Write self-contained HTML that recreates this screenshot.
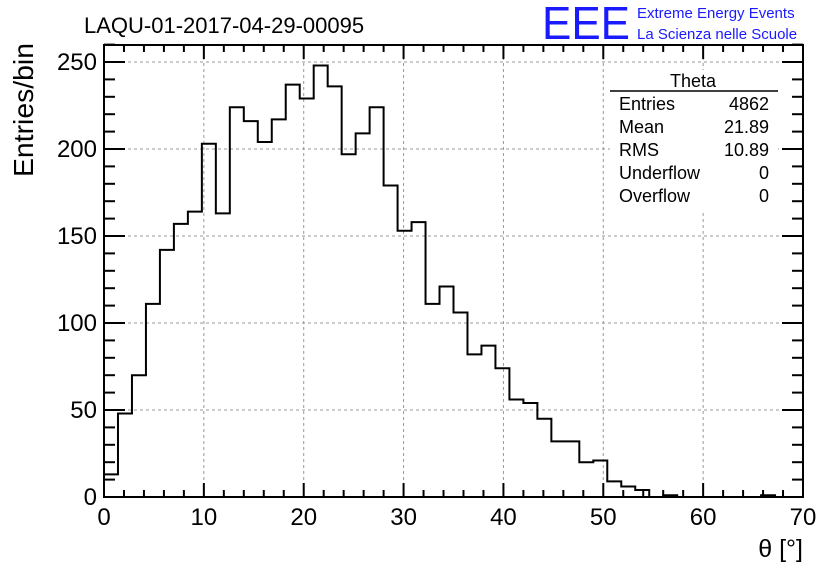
<!DOCTYPE html>
<html><head><meta charset="utf-8"><style>
body{margin:0;background:#fff;}
svg text{font-family:"Liberation Sans",sans-serif;}
</style></head><body>
<svg width="836" height="572" xmlns="http://www.w3.org/2000/svg">
<rect width="836" height="572" fill="#fff"/>
<text x="84" y="33" font-size="22">LAQU-01-2017-04-29-00095</text>
<text x="542" y="39" font-size="46" fill="#1a1aff" textLength="88" lengthAdjust="spacingAndGlyphs">EEE</text>
<text x="637" y="18" font-size="15" fill="#1a1aff">Extreme Energy Events</text>
<text x="637" y="39" font-size="15" fill="#1a1aff">La Scienza nelle Scuole</text>
<g id="grid"></g>
<g id="ticks"></g>
<path id="hist" fill="none" stroke="#000" stroke-width="2"/>
<rect x="104" y="45" width="699" height="452" fill="none" stroke="#000" stroke-width="2"/>
<text x="0" y="0" font-size="28" text-anchor="end" textLength="134" lengthAdjust="spacingAndGlyphs" transform="translate(33,43) rotate(-90)">Entries/bin</text>
<text x="803" y="557" font-size="25" text-anchor="end">θ [°]</text>
<g>
<rect x="610" y="70" width="168" height="140" fill="#fff"/>
<text x="693" y="87" font-size="18" text-anchor="middle">Theta</text>
<line x1="610" y1="91" x2="778" y2="91" stroke="#000" stroke-width="1.5"/>
<text x="619" y="110" font-size="18">Entries</text><text x="769" y="110" font-size="18" text-anchor="end">4862</text>
<text x="619" y="133" font-size="18">Mean</text><text x="769" y="133" font-size="18" text-anchor="end">21.89</text>
<text x="619" y="156" font-size="18">RMS</text><text x="769" y="156" font-size="18" text-anchor="end">10.89</text>
<text x="619" y="179" font-size="18">Underflow</text><text x="769" y="179" font-size="18" text-anchor="end">0</text>
<text x="619" y="202" font-size="18">Overflow</text><text x="769" y="202" font-size="18" text-anchor="end">0</text>
</g>
</svg>
<script>
const counts=[13,48,70,111,142,157,164,203,163,224,216,204,217,237,229,248,236,197,209,224,179,153,158,111,121,106,82,87,74,56,54,45,32,32,20,21,9,6,4,0,1,0,0,0,0,0,0,1,0,0];
const xTickLabels=[0,10,20,30,40,50,60,70];
const yTickLabels=[0,50,100,150,200,250];
const xMin=0,xMax=70,yMax=260;
const X=v=>104+(v-xMin)/(xMax-xMin)*699;
const Y=v=>497-v*1.74;
const NS="http://www.w3.org/2000/svg";
const grid=document.getElementById('grid'),ticks=document.getElementById('ticks');
function ln(p,x1,y1,x2,y2,st,w,d){const l=document.createElementNS(NS,'line');l.setAttribute('x1',x1);l.setAttribute('y1',y1);l.setAttribute('x2',x2);l.setAttribute('y2',y2);l.setAttribute('stroke',st);l.setAttribute('stroke-width',w);if(d)l.setAttribute('stroke-dasharray',d);p.appendChild(l);return l;}
function tx(p,x,y,s,a){const t=document.createElementNS(NS,'text');t.setAttribute('x',x);t.setAttribute('y',y);t.setAttribute('font-size',24);t.setAttribute('text-anchor',a);t.textContent=s;p.appendChild(t);return t;}
xTickLabels.forEach(v=>{const x=X(v);
 if(v>xMin&&v<xMax)ln(grid,x,45,x,497,'#999',1,'3,3');
 const t=tx(ticks,x,525,v,'middle');
 
 });
for(let v=0;v<=70;v+=2){const x=X(v);const L=v%10===0?14:7;ln(ticks,x,497,x,497-L,'#000',2);ln(ticks,x,45,x,45+L,'#000',2);}
yTickLabels.forEach(v=>{const y=Y(v);
 if(v>0)ln(grid,104,y,803,y,'#999',1,'3,3');
 const t=tx(ticks,97,y+8,v,'end');
 
 });
for(let v=0;v<=yMax;v+=10){const y=Y(v);const L=v%50===0?21:11;ln(ticks,104,y,104+L,y,'#000',2);ln(ticks,803,y,803-L,y,'#000',2);}
const bw=(xMax-xMin)/counts.length;
let d='M'+X(0)+','+Y(0);
counts.forEach((c,i)=>{d+=' L'+X(i*bw)+','+Y(c)+' L'+X((i+1)*bw)+','+Y(c);});
d+=' L'+X(xMax)+','+Y(0);
document.getElementById('hist').setAttribute('d',d);
</script>
</body></html>
